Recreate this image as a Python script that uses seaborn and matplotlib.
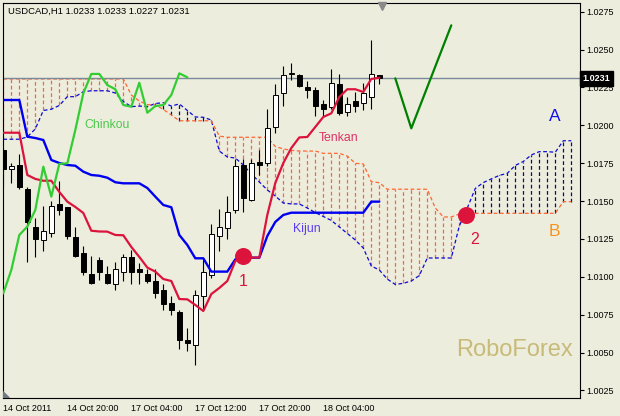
import numpy as np
import matplotlib
matplotlib.use('Agg')
import matplotlib.pyplot as plt
import matplotlib.transforms as mtransforms
import seaborn as sns

# USDCAD H1 candles, bar 0 = 14 Oct 2011 12:00
opens = [1.0184, 1.0171, 1.0174, 1.0158, 1.0133, 1.0124, 1.0129, 1.0148, 1.0146, 1.0126,
         1.0116, 1.0102, 1.0111, 1.0102, 1.0095, 1.0103, 1.0113, 1.0105, 1.0102, 1.0097,
         1.0091, 1.0083, 1.0077, 1.0058, 1.0055, 1.0087, 1.0101, 1.0127, 1.0132, 1.0144,
         1.0174, 1.0151, 1.0176, 1.0175, 1.0199, 1.0221, 1.0234, 1.0233, 1.0225, 1.0223,
         1.0214, 1.0212, 1.0227, 1.0209, 1.0216, 1.0215, 1.0219, 1.0233]
highs = [1.0185, 1.0175, 1.0181, 1.0159, 1.0139, 1.0147, 1.0150, 1.0163, 1.0146, 1.0133,
         1.0120, 1.0114, 1.0113, 1.0107, 1.0110, 1.0115, 1.0118, 1.0109, 1.0105, 1.0105,
         1.0095, 1.0087, 1.0078, 1.0066, 1.0091, 1.0112, 1.0135, 1.0145, 1.0153, 1.0178,
         1.0178, 1.0178, 1.0184, 1.0211, 1.0227, 1.0239, 1.0241, 1.0234, 1.0229, 1.0225,
         1.0217, 1.0237, 1.0234, 1.0219, 1.0222, 1.0228, 1.0256, 1.0233]
lows = [1.0159, 1.0162, 1.0158, 1.0110, 1.0113, 1.0117, 1.0126, 1.0141, 1.0125, 1.0113,
        1.0101, 1.0095, 1.0098, 1.0095, 1.0091, 1.0097, 1.0095, 1.0095, 1.0096, 1.0086,
        1.0078, 1.0075, 1.0052, 1.0051, 1.0042, 1.0079, 1.0099, 1.0117, 1.0125, 1.0142,
        1.0143, 1.0150, 1.0167, 1.0173, 1.0195, 1.0213, 1.0230, 1.0225, 1.0218, 1.0206,
        1.0206, 1.0211, 1.0207, 1.0206, 1.0209, 1.0210, 1.0211, 1.0227]
closes = [1.0171, 1.0173, 1.0159, 1.0136, 1.0125, 1.0130, 1.0147, 1.0144, 1.0127, 1.0114,
          1.0103, 1.0096, 1.0103, 1.0096, 1.0105, 1.0113, 1.0103, 1.0103, 1.0097, 1.0089,
          1.0082, 1.0078, 1.0058, 1.0056, 1.0088, 1.0103, 1.0128, 1.0133, 1.0143, 1.0173,
          1.0152, 1.0175, 1.0174, 1.0198, 1.0220, 1.0233, 1.0234, 1.0226, 1.0223, 1.0213,
          1.0211, 1.0228, 1.0208, 1.0214, 1.0213, 1.0221, 1.0234, 1.0231]

tenkan = [1.01951, 1.01951, 1.01951, 1.01672, 1.01646, 1.01634, 1.01634, 1.01560, 1.01496, 1.01461,
          1.01421, 1.01304, 1.01299, 1.01298, 1.01276, 1.01274, 1.01197, 1.01131, 1.01061, 1.01034,
          1.00985, 1.00972, 1.00853, 1.00851, 1.00814, 1.00774, 1.00886, 1.00926, 1.00972, 1.01104,
          1.01127, 1.01127, 1.01127, 1.01408, 1.01619, 1.01751, 1.01850, 1.01920, 1.01923, 1.01989,
          1.02055, 1.02079, 1.02187, 1.02238, 1.02238, 1.02220, 1.02306, 1.02314]
kijun = [1.02167, 1.02167, 1.02167, 1.01925, 1.01916, 1.01903, 1.01771, 1.01751, 1.01738, 1.01733,
         1.01694, 1.01672, 1.01667, 1.01654, 1.01624, 1.01617, 1.01617, 1.01617, 1.01586, 1.01529,
         1.01474, 1.01459, 1.01276, 1.01210, 1.01122, 1.01122, 1.01034, 1.01034, 1.01034, 1.01115,
         1.01126, 1.01126, 1.01126, 1.01269, 1.01362, 1.01408, 1.01423, 1.01423, 1.01423, 1.01423,
         1.01423, 1.01423, 1.01423, 1.01423, 1.01423, 1.01423, 1.01496, 1.01496]
chinkou = [1.00891, 1.01045, 1.01276, 1.01331, 1.01441, 1.01727, 1.01529, 1.01745, 1.01749, 1.01969,
           1.02211, 1.02339, 1.02339, 1.02266, 1.02238, 1.02134, 1.02123, 1.02281, 1.02083, 1.02127,
           1.02134, 1.02200, 1.02343, 1.02317]
senkou_a = [1.01908, 1.01908, 1.01908, 1.01923, 1.01976, 1.02098, 1.02106, 1.02131, 1.02189, 1.02189,
            1.02222, 1.02228, 1.02228, 1.02228, 1.02213, 1.02157, 1.02123, 1.02127, 1.02123, 1.02144,
            1.02149, 1.02127, 1.02141, 1.02098, 1.02055, 1.02053, 1.02035, 1.01830, 1.01791, 1.01784,
            1.01738, 1.01679, 1.01626, 1.01573, 1.01533, 1.01487, 1.01481, 1.01481, 1.01454, 1.01424,
            1.01398, 1.01372, 1.01329, 1.01286, 1.01243, 1.01190, 1.01071, 1.01045, 1.00985, 1.00949,
            1.00957, 1.00972, 1.01008, 1.01124, 1.01124, 1.01124, 1.01124, 1.01335, 1.01454, 1.01583,
            1.01622, 1.01646, 1.01669, 1.01683, 1.01735, 1.01761, 1.01804, 1.01826, 1.01826, 1.01822,
            1.01898, 1.01898]
senkou_b = [1.02306, 1.02306, 1.02306, 1.02306, 1.02306, 1.02306, 1.02306, 1.02306, 1.02306, 1.02306,
            1.02306, 1.02306, 1.02306, 1.02306, 1.02306, 1.02306, 1.02200, 1.02160, 1.02137, 1.02134,
            1.02105, 1.02068, 1.02030, 1.02030, 1.02030, 1.02030, 1.02030, 1.01929, 1.01921, 1.01921,
            1.01921, 1.01921, 1.01921, 1.01921, 1.01860, 1.01844, 1.01835, 1.01830, 1.01830, 1.01830,
            1.01815, 1.01815, 1.01815, 1.01797, 1.01749, 1.01745, 1.01628, 1.01621, 1.01578, 1.01578,
            1.01578, 1.01578, 1.01578, 1.01578, 1.01454, 1.01395, 1.01395, 1.01414, 1.01419, 1.01419,
            1.01419, 1.01419, 1.01419, 1.01419, 1.01419, 1.01419, 1.01419, 1.01419, 1.01419, 1.01419,
            1.01496, 1.01496]

# hand-drawn forecast zigzag and markers
forecast_x = [49, 51, 56]
forecast_y = [1.0231, 1.0198, 1.0266]
signal_x = [29.96, 57.84]
signal_y = [1.01137, 1.01408]
signal_labels = ['1', '2']
signal_label_y = [1.00972, 1.01243]
signal_label_x = [29.96, 58.96]

x_tick_pos = [0, 8, 16, 24, 32, 40]
x_tick_labels = ['14 Oct 2011', '14 Oct 20:00', '17 Oct 04:00', '17 Oct 12:00',
                 '17 Oct 20:00', '18 Oct 04:00']
y_ticks = [1.0025, 1.0050, 1.0075, 1.0100, 1.0125, 1.0150, 1.0175, 1.0200, 1.0225, 1.0250, 1.0275]

bg = '#EDEDDE'
sns.set_style('white', {'axes.facecolor': bg, 'figure.facecolor': bg})
plt.rcParams['font.family'] = ['Liberation Sans', 'DejaVu Sans']

fig = plt.figure(figsize=(6.2, 4.16), dpi=100)
ax = fig.add_axes([3 / 620, 18 / 416, 577 / 620, 395 / 416])
ax.set_facecolor(bg)

# cloud hatching, one dotted stroke per bar
a = np.array(senkou_a)
b = np.array(senkou_b)
cx = np.arange(len(a))
bull = b >= a
ax.vlines(cx[bull], a[bull], b[bull], colors='#FF6633', linestyles=(0, (3, 2)), lw=0.9, zorder=1)
ax.vlines(cx[~bull], b[~bull], a[~bull], colors='#0C0C60', linestyles=(0, (3, 2)), lw=0.9, zorder=1)

sns.lineplot(x=cx, y=senkou_a, ax=ax, color='#0A0AD8', lw=0.9, linestyle=(0, (3, 2)), zorder=2)
sns.lineplot(x=cx, y=senkou_b, ax=ax, color='#FF6633', lw=0.9, linestyle=(0, (3, 2)), zorder=2)

# last price line
ax.axhline(closes[-1], color='#7A8A9A', lw=1.0, zorder=2)

# candles
o = np.array(opens)
c = np.array(closes)
idx = np.arange(len(o))
up = c >= o
ax.vlines(idx, lows, highs, color='black', lw=0.8, zorder=3)
body = np.maximum(np.abs(c - o), 0.00003)
ax.bar(idx, body, bottom=np.minimum(o, c), width=0.58,
       color=np.where(up, 'white', 'black'), edgecolor='black', linewidth=0.7, zorder=4)

# Ichimoku lines
sns.lineplot(x=idx, y=kijun, ax=ax, color='#0000F0', lw=1.7, zorder=5)
sns.lineplot(x=idx, y=tenkan, ax=ax, color='#DC143C', lw=1.6, zorder=5)
sns.lineplot(x=np.arange(len(chinkou)), y=chinkou, ax=ax, color='#32CD32', lw=1.6, zorder=5)

sns.lineplot(x=forecast_x, y=forecast_y, ax=ax, color='#008000', lw=1.6, zorder=5)

ax.scatter(signal_x, signal_y, s=150, color='#DC143C', zorder=6, linewidths=0)
for lx, ly, t in zip(signal_label_x, signal_label_y, signal_labels):
    ax.text(lx, ly, t, color='#DC143C', fontsize=11.5, ha='center', va='center', zorder=7)

ax.text(12.96, 1.02005, 'Chinkou', color='#4CC84C', fontsize=8.8, ha='center', va='center')
ax.text(41.9, 1.01919, 'Tenkan', color='#DD3366', fontsize=8.8, ha='center', va='center')
ax.text(37.9, 1.01315, 'Kijun', color='#5A3CF0', fontsize=8.8, ha='center', va='center')
ax.text(68.9, 1.02059, 'A', color='#1010E8', fontsize=12.5, ha='center', va='center')
ax.text(68.9, 1.01302, 'B', color='#F7941D', fontsize=12.5, ha='center', va='center')

ax.set_xlim(-0.04, 72.09)
ax.set_ylim(1.001997, 1.028074)
ax.set_xlabel('')
ax.set_ylabel('')

ax.yaxis.tick_right()
ax.set_yticks(y_ticks)
ax.set_yticklabels([f'{v:.4f}' for v in y_ticks])
ax.set_xticks(x_tick_pos)
ax.set_xticklabels(x_tick_labels, ha='left')
ax.tick_params(axis='both', direction='out', length=3, width=0.8, labelsize=6.5,
               colors='black', pad=1.5)
ax.tick_params(axis='y', left=False, right=True)
for s in ax.spines.values():
    s.set_visible(True)
    s.set_color('black')
    s.set_linewidth(0.8)

# current price tag
blend = mtransforms.blended_transform_factory(ax.transAxes, ax.transData)
ax.text(1.004, closes[-1], f'{closes[-1]:.4f}', transform=blend, ha='left', va='center',
        color='white', fontsize=6.5, fontweight='bold', clip_on=False, zorder=10,
        bbox=dict(boxstyle='square,pad=0.3', fc='black', ec='black'))

# chart shift marker and corner mark
blend2 = mtransforms.blended_transform_factory(ax.transData, ax.transAxes)
ax.plot([47.3], [0.992], marker='v', ms=6, color='#8A8A8A', transform=blend2, clip_on=False, zorder=10)
ax.fill([0, 0, 0.011], [0, 0.016, 0], transform=ax.transAxes, color='#6F7880', zorder=10)

fig.text(8 / 620, 1 - 11 / 416, 'USDCAD,H1 1.0233 1.0233 1.0227 1.0231', fontsize=6.8,
         ha='left', va='center', color='black')
fig.text(0.830, 0.159, 'RoboForex', fontsize=17, color='#C8BA78', ha='center', va='center')

fig.savefig('out.png', dpi=100, facecolor=bg)
